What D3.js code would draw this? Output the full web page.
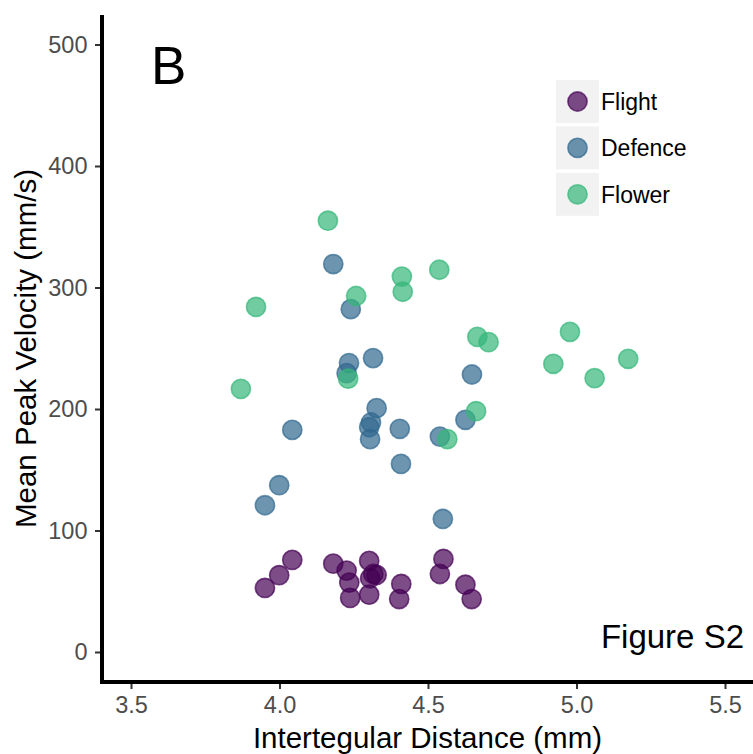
<!DOCTYPE html>
<html>
<head>
<meta charset="utf-8">
<script src="https://cdn.jsdelivr.net/npm/d3@7"></script>
<style>
  body { margin: 0; background: #fff; }
  svg { font-family: "Liberation Sans", Arial, sans-serif; }
</style>
</head>
<body>
<div id="chart"></div>
<script>
// values
let groups = ["Flight", "Defence", "Flower"];
let groupColors = ["#440154", "#31688E", "#35B779"];

let flightX = [3.951, 3.999, 4.043, 4.181, 4.226, 4.235, 4.238, 4.302, 4.305, 4.316, 4.327, 4.302, 4.410, 4.403, 4.552, 4.540, 4.626, 4.647];
let flightY = [52.7, 63.2, 75.8, 72.7, 67.0, 57.1, 44.5, 75.0, 60.7, 64.2, 63.4, 47.2, 56.0, 43.6, 76.6, 64.2, 55.4, 43.6];

let defenceX = [4.181, 4.240, 4.315, 4.234, 4.226, 4.648, 4.327, 4.308, 4.302, 4.305, 4.405, 4.540, 4.626, 4.043, 4.409, 3.999, 3.951, 4.550];
let defenceY = [319.3, 282.2, 241.9, 237.8, 229.5, 228.4, 200.7, 188.9, 185.0, 175.2, 183.7, 177.3, 191.1, 182.8, 154.8, 137.3, 120.8, 109.5];

let flowerX = [3.870, 3.921, 4.163, 4.258, 4.231, 4.412, 4.415, 4.538, 4.666, 4.704, 4.662, 4.565, 4.922, 4.978, 5.061, 5.174];
let flowerY = [216.6, 284.0, 355.0, 293.0, 225.0, 309.0, 296.5, 314.6, 259.4, 255.0, 198.2, 175.2, 237.2, 263.5, 225.4, 241.3];

let xTicks = [3.5, 4.0, 4.5, 5.0, 5.5];
let yTicks = [0, 100, 200, 300, 400, 500];

let width = 753, height = 754;
let axisLeft = 102, axisBottom = 682;

let x = d3.scaleLinear().domain([3.5, 5.5]).range([131, 725]);
let y = d3.scaleLinear().domain([0, 500]).range([652, 44.5]);
let color = d3.scaleOrdinal().domain(groups).range(groupColors);

let svg = d3.select("#chart").append("svg")
  .attr("width", width).attr("height", height);

// build point table, drawn in group order
let points = [];
[[flightX, flightY, "Flight"], [defenceX, defenceY, "Defence"], [flowerX, flowerY, "Flower"]]
  .forEach(function(s) {
    s[0].forEach(function(v, i) {
      points.push({ x: v, y: s[1][i], group: s[2] });
    });
  });

svg.append("g").selectAll("circle").data(points).enter().append("circle")
  .attr("cx", d => x(d.x))
  .attr("cy", d => y(d.y))
  .attr("r", 9.6)
  .attr("fill", d => color(d.group))
  .attr("fill-opacity", 0.7)
  .attr("stroke", d => color(d.group))
  .attr("stroke-opacity", 0.7)
  .attr("stroke-width", 1.6);

// axes
let xAxis = d3.axisBottom(x).tickValues(xTicks).tickFormat(d3.format(".1f")).tickSize(5).tickPadding(7);
let yAxis = d3.axisLeft(y).tickValues(yTicks).tickSize(5).tickPadding(7.5);

let gx = svg.append("g").attr("transform", "translate(0," + (axisBottom + 2) + ")").call(xAxis);
let gy = svg.append("g").attr("transform", "translate(" + (axisLeft - 2) + ",0)").call(yAxis);

[gx, gy].forEach(function(g) {
  g.select(".domain").remove();
  g.attr("font-family", null).attr("font-size", null);
  g.selectAll(".tick line").attr("stroke", "#333333").attr("stroke-width", 2);
  g.selectAll(".tick text").attr("fill", "#4d4d4d").style("font-size", "23.5px");
});

svg.append("line")
  .attr("x1", axisLeft).attr("x2", axisLeft)
  .attr("y1", 15).attr("y2", axisBottom + 2)
  .attr("stroke", "#000").attr("stroke-width", 4);
svg.append("line")
  .attr("x1", axisLeft - 2).attr("x2", width)
  .attr("y1", axisBottom).attr("y2", axisBottom)
  .attr("stroke", "#000").attr("stroke-width", 4);

// axis titles
svg.append("text")
  .attr("x", 427.5).attr("y", 748)
  .attr("text-anchor", "middle")
  .style("font-size", "29.5px")
  .text("Intertegular Distance (mm)");

svg.append("text")
  .attr("transform", "translate(35.5,348.5) rotate(-90)")
  .attr("text-anchor", "middle")
  .style("font-size", "29.5px")
  .text("Mean Peak Velocity (mm/s)");

// annotations
svg.append("text")
  .attr("x", 151).attr("y", 83.5)
  .style("font-size", "53px")
  .text("B");

svg.append("text")
  .attr("x", 744).attr("y", 647.5)
  .attr("text-anchor", "end")
  .style("font-size", "33px")
  .text("Figure S2");

// legend
let legend = svg.append("g").attr("transform", "translate(556,80)");
let key = legend.selectAll("g").data(groups).enter().append("g")
  .attr("transform", (d, i) => "translate(0," + (i * 46.4) + ")");
key.append("rect")
  .attr("width", 43).attr("height", 43)
  .attr("fill", "#f2f2f2");
key.append("circle")
  .attr("cx", 21.5).attr("cy", 21.5).attr("r", 9.6)
  .attr("fill", d => color(d)).attr("fill-opacity", 0.7)
  .attr("stroke", d => color(d)).attr("stroke-opacity", 0.7)
  .attr("stroke-width", 1.6);
key.append("text")
  .attr("x", 45).attr("y", 21.5)
  .attr("dy", "0.36em")
  .style("font-size", "23px")
  .text(d => d);
</script>
</body>
</html>
